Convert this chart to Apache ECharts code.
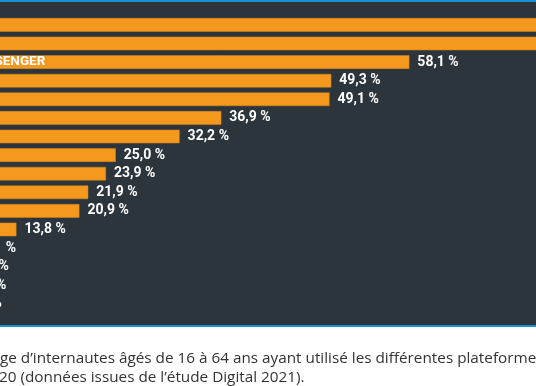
<!DOCTYPE html>
<html><head><meta charset="utf-8">
<script src="https://cdn.jsdelivr.net/npm/echarts@6/dist/echarts.min.js"></script>
<style>html,body{margin:0;padding:0;background:#fff;overflow:hidden;width:536px;height:386px;position:relative}
#c{position:absolute;left:-120px;top:0;width:1000px;height:386px}</style>
</head><body><div id="c"></div>
<script>
const categories = ["YOUTUBE","FACEBOOK","FACEBOOK MESSENGER","INSTAGRAM","WHATSAPP","SNAPCHAT","TWITTER","PINTEREST","LINKEDIN","TIKTOK","SKYPE","TWITCH","VIBER","TUMBLR","REDDIT","DISCORD"];
const values = [79.2,72.7,58.1,49.3,49.1,36.9,32.2,25.0,23.9,21.9,20.9,13.8,9.1,8.3,8.0,7.5];
const captionLines = ["ge d\u2019internautes âgés de 16 à 64 ans ayant utilisé les différentes plateformes","20 (données issues de l\u2019étude Digital 2021)."];

const OFF = 120; // page x = chart x - OFF
const chart = echarts.init(document.getElementById('c'), null, {renderer:'canvas'});
chart.setOption({
  animation:false,
  backgroundColor:'#ffffff',
  graphic:[
    {type:'rect', shape:{x:0,y:0,width:1000,height:326}, style:{fill:'#2b353b'}, z:-10},
    {type:'rect', shape:{x:0,y:0,width:1000,height:2}, style:{fill:'#1c8fd0'}, z:-9},
    {type:'rect', shape:{x:0,y:325,width:1000,height:2}, style:{fill:'#1c8fd0'}, z:-9},
    {type:'text', x:OFF+0, y:358.5, style:{text:captionLines[0], fill:'#333333', font:'15.3px "Open Sans"', textVerticalAlign:'middle'}},
    {type:'text', x:OFF-1, y:377.5, style:{text:captionLines[1], fill:'#333333', font:'15.3px "Open Sans"', textVerticalAlign:'middle'}}
  ],
  grid:{left:OFF-106, top:15.6, width:887, height:297.6, containLabel:false},
  xAxis:{type:'value', min:0, max:100, show:false},
  yAxis:{type:'category', data:categories, inverse:true,
    axisLine:{show:false}, axisTick:{show:false},
    axisLabel:{inside:true, margin:2, color:'#ffffff', fontFamily:'Roboto', fontWeight:'bold', fontSize:13.5},
    z:10},
  series:[{type:'bar', data:values, barCategoryGap:'27%',
    itemStyle:{color:'#f4981e', borderColor:'#d8861a', borderWidth:0.5},
    label:{show:true, position:'right', distance:8, color:'#ffffff', fontFamily:'Roboto', fontWeight:'bold', fontSize:14,
      formatter:p=>p.value.toFixed(1).replace('.',',')+' %'}}]
});
</script></body></html>
